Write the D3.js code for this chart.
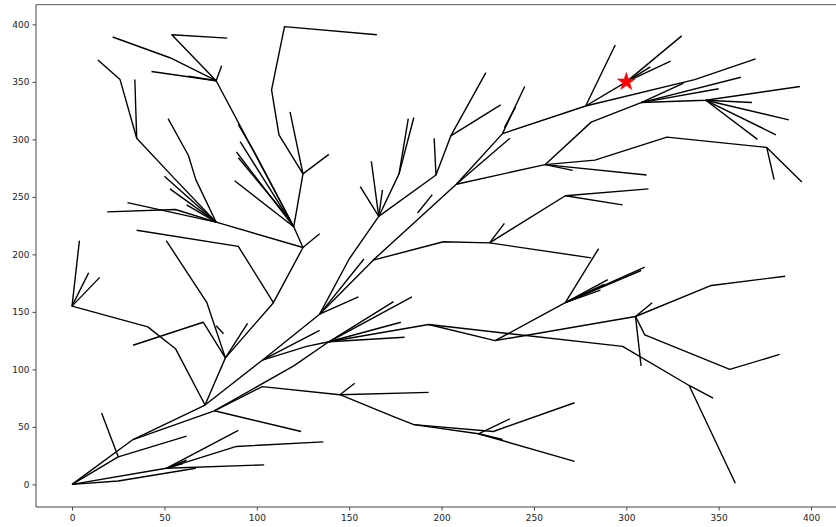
<!DOCTYPE html>
<html>
<head>
<meta charset="utf-8">
<script src="https://cdn.jsdelivr.net/npm/d3@7"></script>
<style>
  html, body { margin: 0; padding: 0; background: #fff; }
  svg { display: block; }
  text { font-family: "DejaVu Sans", sans-serif; }
</style>
</head>
<body>
<svg id="chart" width="836" height="527"></svg>
<script>
// ---- tick labels ----
const xTicks = [0, 50, 100, 150, 200, 250, 300, 350, 400];
const yTicks = [0, 50, 100, 150, 200, 250, 300, 350, 400];
const xDomain = [-19.5, 413.5];
const yDomain = [-19.65, 417.1];

// ---- goal marker ----
const goal = [300, 350];

// ---- tree branches (polylines, data coordinates) ----
const trunkBranches = [
  [[0,0],[33,39],[72,69],[83,110],[109,158],[125,206],[78,228]],
  [[33,39],[77,64],[120,103],[139,124],[193,139],[229,125],[305,146]],
  [[72,69],[103,108],[134,148],[150,196],[166,233],[197,269],[205,303],[224,358]],
  [[134,148],[163,195],[208,261],[233,305],[278,329],[300,350],[330,390]],
  [[300,350],[324,368]],
  [[300,350],[313,363]],
  [[278,329],[294,382]],
  [[278,329],[337,352],[370,370]]
];

const rootBranches = [
  [[0,0],[25,24],[16,62]],
  [[25,24],[62,42]],
  [[0,0],[25,3],[67,14]],
  [[0,0],[51,14],[104,17]],
  [[51,14],[89,33],[136,37]],
  [[51,14],[90,47]],
  [[51,14],[62,21]],
  [[51,14],[60,18]],
  [[77,64],[124,46]],
  [[77,64],[103,85],[145,78],[193,80]],
  [[145,78],[153,88]],
  [[145,78],[174,59],[185,52],[228,46],[272,71]],
  [[185,52],[220,44],[272,20]],
  [[220,44],[237,57]],
  [[220,44],[233,39]]
];

const leftBranches = [
  [[72,69],[56,118],[41,137],[0,155],[4,212]],
  [[0,155],[9,184]],
  [[0,155],[15,180]],
  [[83,110],[71,141],[33,121]],
  [[83,110],[73,158],[51,212]],
  [[83,110],[95,140]],
  [[78,138],[82,131]],
  [[109,158],[90,207],[35,221]],
  [[125,206],[134,218]],
  [[125,206],[120,224],[78,351]],
  [[120,224],[88,264]],
  [[120,224],[125,270]],
  [[120,224],[99,288],[90,313]],
  [[120,224],[91,298]],
  [[120,224],[89,289]],
  [[118,230],[90,284]],
  [[78,351],[53,371],[22,389]],
  [[78,351],[54,391],[84,388]],
  [[78,351],[43,359]],
  [[78,351],[63,355]],
  [[78,351],[81,364]],
  [[125,270],[112,304],[108,343],[115,398],[165,391]],
  [[125,270],[118,324]],
  [[125,270],[139,287]],
  [[78,228],[30,245]],
  [[78,228],[56,239],[19,237]],
  [[78,228],[50,268]],
  [[78,228],[53,257]],
  [[78,228],[62,243]],
  [[78,228],[56,265],[35,301],[26,352],[14,369]],
  [[35,301],[34,352]],
  [[78,228],[67,265],[63,286],[52,318]]
];

const middleBranches = [
  [[166,233],[156,259]],
  [[166,233],[168,256]],
  [[166,233],[162,281]],
  [[166,233],[177,270],[182,318]],
  [[177,270],[185,319]],
  [[197,269],[196,301]],
  [[205,303],[232,330]],
  [[136,152],[158,196]],
  [[134,148],[155,163]],
  [[103,108],[134,134]],
  [[163,195],[201,211],[226,210],[281,197]],
  [[226,210],[234,227]],
  [[226,210],[267,251],[312,257]],
  [[267,251],[298,243]],
  [[187,236],[195,252]],
  [[208,261],[237,301]],
  [[208,261],[256,278]],
  [[233,305],[245,346]],
  [[234,310],[240,328]],
  [[103,108],[127,120],[139,124]],
  [[139,124],[174,159]],
  [[139,124],[184,163]],
  [[139,124],[178,141]],
  [[139,124],[180,128]]
];

const rightBranches = [
  [[256,278],[281,315],[308,332],[343,334],[394,346]],
  [[343,334],[368,332]],
  [[343,334],[388,317]],
  [[343,334],[381,304]],
  [[343,334],[371,300]],
  [[308,332],[362,354]],
  [[308,332],[350,344]],
  [[308,332],[331,349]],
  [[256,278],[283,282],[322,302],[376,293],[380,265]],
  [[376,293],[395,263]],
  [[256,278],[311,269]],
  [[256,278],[271,273]],
  [[193,139],[298,120],[334,86],[359,1]],
  [[334,86],[347,75]],
  [[229,125],[267,158],[285,205]],
  [[267,158],[310,189]],
  [[267,158],[308,186]],
  [[267,158],[290,178]],
  [[267,158],[286,169]],
  [[267,158],[288,174]],
  [[305,146],[314,158]],
  [[305,146],[346,173],[386,181]],
  [[305,146],[308,103]],
  [[305,146],[310,130],[356,100],[383,113]]
];

// ---- drawing ----
const svg = d3.select("#chart");
const mLeft = 36, mRight = 836, mTop = 4.7, mBottom = 507;

const x = d3.scaleLinear().domain(xDomain).range([mLeft, mRight]);
const y = d3.scaleLinear().domain(yDomain).range([mBottom, mTop]);

const allBranches = [].concat(trunkBranches, rootBranches, leftBranches, middleBranches, rightBranches);

const line = d3.line().x(d => x(d[0])).y(d => y(d[1]));

svg.append("g")
  .selectAll("path")
  .data(allBranches)
  .join("path")
  .attr("d", line)
  .attr("fill", "none")
  .attr("stroke", "#000")
  .attr("stroke-width", 1.4)
  .attr("stroke-linejoin", "round");

// goal star
svg.append("path")
  .attr("d", d3.symbol().type(d3.symbolStar).size(101)())
  .attr("transform", `translate(${x(goal[0])},${y(goal[1])})`)
  .attr("fill", "#ff0000")
  .attr("stroke", "#ff0000")
  .attr("stroke-width", 0.5);

// axes
const xAxis = d3.axisBottom(x).tickValues(xTicks).tickSizeInner(3.5).tickSizeOuter(0).tickPadding(4.5);
const yAxis = d3.axisLeft(y).tickValues(yTicks).tickSizeInner(3.5).tickSizeOuter(0).tickPadding(3);

const gx = svg.append("g").attr("transform", `translate(0,${mBottom})`).call(xAxis);
const gy = svg.append("g").attr("transform", `translate(${mLeft},0)`).call(yAxis);

[gx, gy].forEach(g => {
  g.select(".domain").remove();
  g.selectAll(".tick line").attr("stroke", "#333").attr("stroke-width", 0.9);
  g.selectAll(".tick text").attr("fill", "#222").style("font-size", "9px")
    .style("font-family", "'DejaVu Sans', sans-serif");
});

// spines
svg.append("line").attr("x1", mLeft).attr("x2", mLeft).attr("y1", mTop).attr("y2", mBottom)
  .attr("stroke", "#444").attr("stroke-width", 1);
svg.append("line").attr("x1", mLeft).attr("x2", mRight).attr("y1", mBottom).attr("y2", mBottom)
  .attr("stroke", "#444").attr("stroke-width", 1);
svg.append("line").attr("x1", mLeft).attr("x2", mRight).attr("y1", mTop).attr("y2", mTop)
  .attr("stroke", "#555").attr("stroke-width", 1);
</script>
</body>
</html>
